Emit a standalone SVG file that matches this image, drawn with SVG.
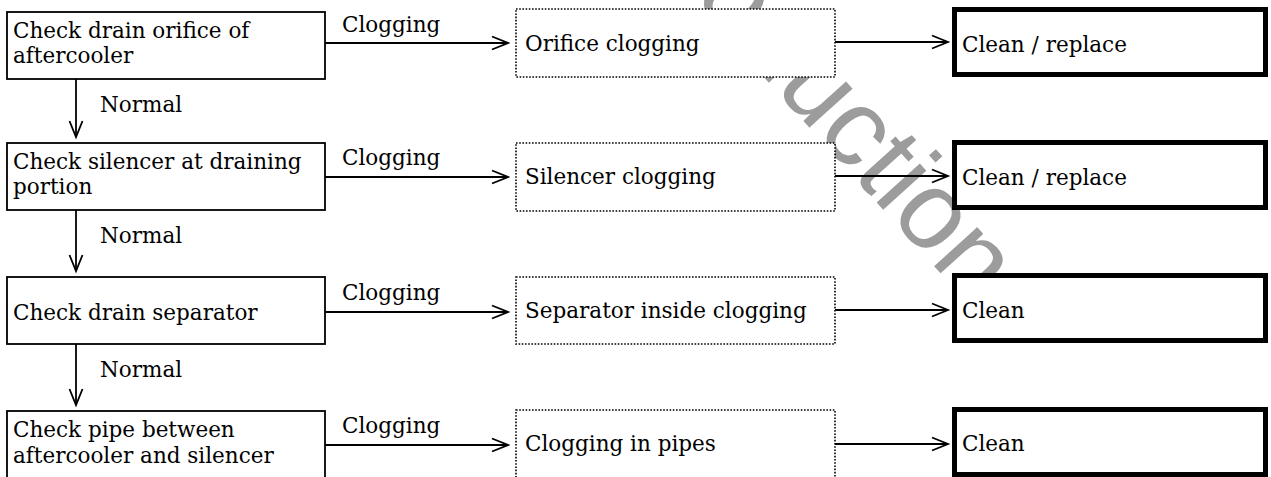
<svg xmlns="http://www.w3.org/2000/svg" width="1271" height="477" viewBox="0 0 1271 477">
<defs>
<style>
.bg{fill:#ffffff}
.wm{font-family:"Liberation Sans",Arial,sans-serif;font-size:110px;fill:#9c9c9c}
.t{font-family:"DejaVu Serif","Liberation Serif",serif;font-size:21.5px;fill:#000}
.check{fill:#fff;stroke:#000;stroke-width:1.8}
.cause{fill:#fff;stroke:#000;stroke-width:1.6;stroke-dasharray:1.6 1.6}
.act{fill:#fff;stroke:#000;stroke-width:5}
.ln{fill:none;stroke:#000;stroke-width:1.8}
</style>
<marker id="ah" markerWidth="20" markerHeight="16" refX="17" refY="8" orient="auto" markerUnits="userSpaceOnUse" viewBox="0 0 20 16">
<path d="M1,1.5 L17,8 L1,14.5" fill="none" stroke="#000" stroke-width="1.8"/>
</marker>
</defs>
<rect class="bg" x="0" y="0" width="1271" height="477"/>
<text class="wm" transform="translate(970,306) rotate(48)" text-anchor="end">Reproduction</text>

<g id="connectors">
<line class="ln" x1="76" y1="79" x2="76" y2="137" marker-end="url(#ah)"/>
<line class="ln" x1="76" y1="210" x2="76" y2="271" marker-end="url(#ah)"/>
<line class="ln" x1="76" y1="344" x2="76" y2="405" marker-end="url(#ah)"/>
<line class="ln" x1="325" y1="43" x2="508" y2="43" marker-end="url(#ah)"/>
<line class="ln" x1="325" y1="177" x2="508" y2="177" marker-end="url(#ah)"/>
<line class="ln" x1="325" y1="312" x2="508" y2="312" marker-end="url(#ah)"/>
<line class="ln" x1="325" y1="445" x2="508" y2="445" marker-end="url(#ah)"/>
<line class="ln" x1="835" y1="42" x2="948" y2="42" marker-end="url(#ah)"/>
<line class="ln" x1="835" y1="176" x2="948" y2="176" marker-end="url(#ah)"/>
<line class="ln" x1="835" y1="310" x2="948" y2="310" marker-end="url(#ah)"/>
<line class="ln" x1="835" y1="444" x2="948" y2="444" marker-end="url(#ah)"/>
<text class="t" x="342" y="32">Clogging</text>
<text class="t" x="342" y="165">Clogging</text>
<text class="t" x="342" y="300">Clogging</text>
<text class="t" x="342" y="433">Clogging</text>
<text class="t" x="100" y="112">Normal</text>
<text class="t" x="100" y="243">Normal</text>
<text class="t" x="100" y="377">Normal</text>
</g>

<g id="check1"><rect class="check" x="7" y="12" width="318" height="67"/><text class="t" x="13" y="38">Check drain orifice of</text><text class="t" x="13" y="63">aftercooler</text></g>
<g id="check2"><rect class="check" x="7" y="143" width="318" height="67"/><text class="t" x="13" y="169">Check silencer at draining</text><text class="t" x="13" y="194">portion</text></g>
<g id="check3"><rect class="check" x="7" y="277" width="318" height="67"/><text class="t" x="13" y="320">Check drain separator</text></g>
<g id="check4"><rect class="check" x="7" y="411" width="318" height="70"/><text class="t" x="13" y="437">Check pipe between</text><text class="t" x="13" y="463">aftercooler and silencer</text></g>

<g id="cause1"><rect class="cause" x="516" y="9" width="319" height="68"/><text class="t" x="525" y="51">Orifice clogging</text></g>
<g id="cause2"><rect class="cause" x="516" y="143" width="319" height="68"/><text class="t" x="525" y="184">Silencer clogging</text></g>
<g id="cause3"><rect class="cause" x="516" y="277" width="319" height="67"/><text class="t" x="525" y="318">Separator inside clogging</text></g>
<g id="cause4"><rect class="cause" x="516" y="410" width="319" height="70"/><text class="t" x="525" y="451">Clogging in pipes</text></g>

<g id="action1"><rect class="act" x="954.5" y="9.5" width="311" height="65"/><text class="t" x="962" y="52">Clean / replace</text></g>
<g id="action2"><rect class="act" x="954.5" y="142.5" width="311" height="65"/><text class="t" x="962" y="185">Clean / replace</text></g>
<g id="action3"><rect class="act" x="954.5" y="275.5" width="311" height="65"/><text class="t" x="962" y="318">Clean</text></g>
<g id="action4"><rect class="act" x="954.5" y="409.5" width="311" height="65"/><text class="t" x="962" y="451">Clean</text></g>
</svg>
